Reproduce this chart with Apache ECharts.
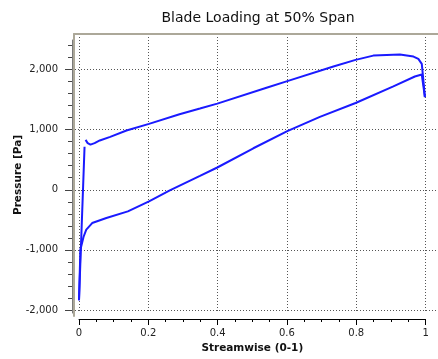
<!DOCTYPE html>
<html>
<head>
<meta charset="utf-8">
<script src="https://cdn.jsdelivr.net/npm/echarts@6/dist/echarts.min.js"></script>
<style>
  html, body { margin: 0; padding: 0; background: #fff; }
  #chart { width: 438px; height: 359px; }
</style>
</head>
<body>
<div id="chart"></div>
<script>
const chartTitle = 'Blade Loading at 50% Span';
const xName = 'Streamwise (0-1)';
const yName = 'Pressure [Pa]';

// axis ranges / tick steps
const xRange = [0, 1];
const xStep = 0.2;
const yRange = [-2000, 2000];
const yStep = 1000;
const yMinorStep = 200;
const yMinorTop = 2400;

// upper curve (null = gap in the line near the leading edge)
const upperX = [0.0, 0.016, null, 0.019, 0.025, 0.033, 0.045, 0.06, 0.09, 0.137, 0.202, 0.29, 0.349, 0.399, 0.541, 0.601, 0.734, 0.798, 0.849, 0.926, 0.965, 0.979, 0.989, 0.992, 0.998];
const upperY = [-1838, 714, null, 830, 775, 750, 775, 820, 880, 985, 1096, 1255, 1350, 1433, 1697, 1807, 2050, 2160, 2231, 2248, 2215, 2177, 2094, 1917, 1542];

// lower curve
const lowerX = [0.0, 0.004, 0.013, 0.021, 0.038, 0.079, 0.141, 0.202, 0.262, 0.349, 0.399, 0.503, 0.601, 0.695, 0.798, 0.907, 0.969, 0.989, 0.998];
const lowerY = [-1838, -997, -786, -664, -554, -470, -360, -194, -12, 230, 370, 690, 975, 1212, 1443, 1719, 1884, 1917, 1542];

const FONT = 'DejaVu Sans';
const LINE = '#1a1aff';
const FRAME = '#aca899';
const DOTS = { type: [1, 2], color: '#555', width: 1 };

const toPairs = (xs, ys) => xs.map((x, i) => (x === null ? [NaN, NaN] : [x, ys[i]]));

const hidden = (gridIndex, extra) => Object.assign({ gridIndex, type: 'value', show: false, min: 0, max: 1 }, extra || {});

const chart = echarts.init(document.getElementById('chart'));

chart.setOption({
  animation: false,
  backgroundColor: '#fff',
  title: {
    text: chartTitle,
    left: 258,
    top: 11,
    padding: 0,
    textAlign: 'center',
    textStyle: { fontFamily: FONT, fontSize: 14, fontWeight: 'normal', color: '#111' }
  },
  grid: [
    { left: 74, right: 0, top: 34, bottom: 43 },       // 0 frame
    { left: 72, right: 0, top: 40, bottom: 46 },       // 1 y axis line
    { left: 72, right: 0, top: 45.45, bottom: 49 },    // 2 y minor ticks
    { left: 72, right: 0, top: 69.5, bottom: 49 },     // 3 y labels
    { left: 75, right: 0, top: 69.5, bottom: 49 },     // 4 y grid lines
    { left: 79, right: 12.4, top: 34, bottom: 46 },    // 5 x axis
    { left: 79, right: 12.4, top: 69.5, bottom: 49 }   // 6 data
  ],
  xAxis: [
    {
      gridIndex: 0, type: 'value', min: 0, max: 1, position: 'top',
      axisLine: { show: true, onZero: false, lineStyle: { color: FRAME, width: 2 } },
      axisTick: { show: false }, axisLabel: { show: false }, splitLine: { show: false }
    },
    hidden(1), hidden(2), hidden(3), hidden(4),
    {
      gridIndex: 5, type: 'value', min: xRange[0], max: xRange[1], interval: xStep,
      offset: 6.5,
      axisLine: { show: true, onZero: false, lineStyle: { color: '#000', width: 1 } },
      axisTick: { show: true, length: 6, lineStyle: { color: '#000' } },
      minorTick: { show: true, splitNumber: 4, length: 3, lineStyle: { color: '#000' } },
      axisLabel: { margin: 9, fontFamily: FONT, fontSize: 10, color: '#222' },
      splitLine: { show: true, lineStyle: DOTS },
      name: xName, nameLocation: 'middle', nameGap: 24,
      nameTextStyle: { fontFamily: FONT, fontSize: 10.5, fontWeight: 'bold', color: '#111' }
    },
    hidden(6, { min: xRange[0], max: xRange[1] })
  ],
  yAxis: [
    {
      gridIndex: 0, type: 'value', min: 0, max: 1,
      axisLine: { show: true, onZero: false, lineStyle: { color: FRAME, width: 2 } },
      axisTick: { show: false }, axisLabel: { show: false }, splitLine: { show: false },
      name: yName, nameLocation: 'middle', nameGap: 50,
      nameTextStyle: { fontFamily: FONT, fontSize: 10.5, fontWeight: 'bold', color: '#111' }
    },
    {
      gridIndex: 1, type: 'value', min: 0, max: 1,
      axisLine: { show: true, onZero: false, lineStyle: { color: '#7a7a7a', width: 1 } },
      axisTick: { show: false }, axisLabel: { show: false }, splitLine: { show: false }
    },
    {
      gridIndex: 2, type: 'value', min: yRange[0], max: yMinorTop, interval: yMinorStep,
      axisLine: { show: false },
      axisTick: { show: true, length: 4, lineStyle: { color: '#444' } },
      axisLabel: { show: false }, splitLine: { show: false }
    },
    {
      gridIndex: 3, type: 'value', min: yRange[0], max: yRange[1], interval: yStep,
      axisLine: { show: false },
      axisTick: { show: true, length: 7, lineStyle: { color: '#444' } },
      axisLabel: {
        margin: 14, fontFamily: FONT, fontSize: 10, color: '#222',
        formatter: v => v.toLocaleString('en-US')
      },
      splitLine: { show: false }
    },
    {
      gridIndex: 4, type: 'value', min: yRange[0], max: yRange[1], interval: yStep,
      axisLine: { show: false }, axisTick: { show: false }, axisLabel: { show: false },
      splitLine: { show: true, lineStyle: DOTS }
    },
    hidden(5),
    hidden(6, { min: yRange[0], max: yRange[1] })
  ],
  series: [
    {
      name: 'Upper', type: 'line', xAxisIndex: 6, yAxisIndex: 6,
      data: toPairs(upperX, upperY), showSymbol: false, clip: false,
      lineStyle: { color: LINE, width: 2 }
    },
    {
      name: 'Lower', type: 'line', xAxisIndex: 6, yAxisIndex: 6,
      data: toPairs(lowerX, lowerY), showSymbol: false, clip: false,
      lineStyle: { color: LINE, width: 2 }
    }
  ]
});
</script>
</body>
</html>
